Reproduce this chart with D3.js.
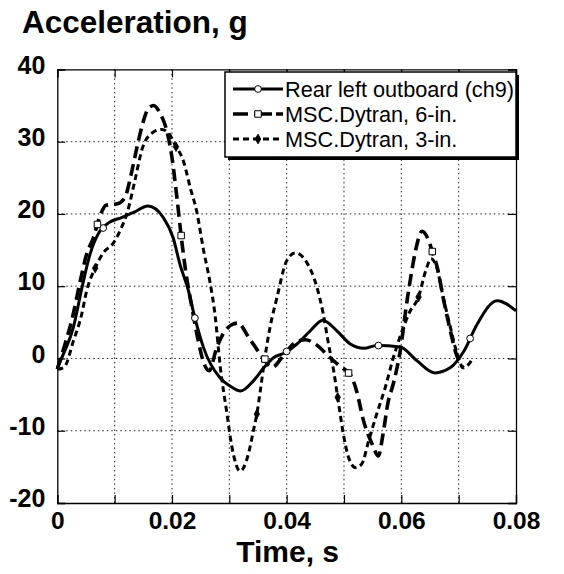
<!DOCTYPE html>
<html>
<head>
<meta charset="utf-8">
<script src="https://cdn.jsdelivr.net/npm/d3@7"></script>
<style>
  html, body { margin: 0; padding: 0; background: #fff; }
  svg { display: block; font-family: "Liberation Sans", Arial, Helvetica, sans-serif; }
</style>
</head>
<body>
<svg id="chart" width="564" height="574"></svg>
<script>
// ---- data (time in ms, acceleration in g) ----
const ch9Time = [0,1,2.8,4.3,5.7,7.4,9,11.2,13.3,15.8,18.5,20.2,21.4,22.9,24,25.5,28.4,30.1,32,34.2,36,37.7,39.7,41.8,44.1,46.3,48.8,51.1,53.5,55.7,59.8,62.7,65.8,68.5,70.9,73.2,76.7,80];
const ch9Accel = [-1.3,0.5,4.3,9.8,14.4,17.6,18.8,19.5,20.2,21.1,19.5,16.7,13,9.3,5.6,1.5,-2.7,-3.8,-4.5,-3.1,-1.3,0.1,0.8,2.0,3.8,5.3,3.8,2.0,1.4,1.8,1.6,-0.3,-2.0,-1.3,1.0,4.7,8.0,6.6];

const dyt6Time = [0,1.35,2.5,4,5.1,6.3,7.4,8.5,10.5,11.8,13,14,15,15.8,16.8,18,19.1,20,20.8,21.7,22.3,23.7,24.6,25.5,26.5,27.8,29,30.5,31.5,33.4,35.4,37.5,39.5,41.5,43.3,45,47.6,49.5,51.1,52.2,53.4,55,56,56.8,57.7,58.6,59.8,61,61.8,62.5,63.6,65,65.4,66.3,67.4,68.5,69.5,70.8];
const dyt6Accel = [-1.5,2,5.2,10.7,14.4,16.7,19.6,21.2,21.4,22.3,25.9,29.6,32.8,34.5,35,33.8,31.5,27.8,22.7,16.3,12.6,6.1,2.4,-0.5,-1.7,1.5,3.5,4.7,4.9,2.9,0.6,-1.2,0.5,2.2,2.6,2.0,0.1,-1.2,-2.2,-4.5,-8.6,-12,-13.5,-10.5,-6,-3.5,1,8,12,15,17.6,15.8,14.8,12.5,8,4,0.8,-1.3];

const dyt3Time = [0,1.2,2.8,4.25,5.1,6.6,8,9.8,10.9,12.2,13.5,14.8,16.5,18.2,19.4,20.5,22,23.2,24.3,25.5,26.6,27.5,28.4,29.6,30.4,31.9,33.3,34.2,34.8,35.4,36.2,37.1,38.3,40,41.5,43.5,45.3,46.4,47.3,48.2,49,49.9,50.8,52,53.1,54.3,55.7,57.2,58.6,60,61.5,63,64.2,65.2,66.2,67.3,68.5,69.8,70.8,72.5];
const dyt3Accel = [-1.5,-1.2,2.4,6.1,9.3,12.5,14.6,16,17.6,20.2,24.5,29,31.2,31.7,31.2,29.6,27.3,23.6,20.4,15,10.7,6.1,-1,-7.7,-12,-15.6,-13.3,-10,-7.7,-4.5,0.1,4.3,8.4,13.5,14.6,13.3,9.8,6.1,2,-1.7,-5.9,-10.5,-13.7,-15.1,-14.6,-11.4,-7.7,-4,0.1,3.5,6.5,8.5,12,13.8,12.5,8.5,4.5,0.5,-1.3,0];

// marker times (ms) for each series
const ch9MarkTime = [8,24,40,56,72];
const dyt6MarkTime = [7,21.6,36.2,50.8,65.4];
const dyt3MarkTime = [6.6,20.7,34.8,48.9,63];

const seriesNames = ["Rear left outboard (ch9)", "MSC.Dytran, 6-in.", "MSC.Dytran, 3-in."];
const xTicks = [0,0.01,0.02,0.03,0.04,0.05,0.06,0.07,0.08];
const xTickLabels = ["0","","0.02","","0.04","","0.06","","0.08"];
const yTicks = [-20,-10,0,10,20,30,40];
const yTickLabels = ["-20","-10","0","10","20","30","40"];
const titleText = "Acceleration, g";
const xTitleText = "Time, s";

// ---- layout ----
const svg = d3.select("#chart");
const L = 57.3, R = 516, T = 69.4, B = 503;
const x = d3.scaleLinear().domain([0, 0.08]).range([L, R]);
const y = d3.scaleLinear().domain([-20, 40]).range([B, T]);

const toPts = (ts, gs) => ts.map((t, i) => [t / 1000, gs[i]]);
const s1 = toPts(ch9Time, ch9Accel);
const s2 = toPts(dyt6Time, dyt6Accel);
const s3 = toPts(dyt3Time, dyt3Accel);

function interp(ts, gs, t) {
  for (let i = 0; i < ts.length - 1; i++) {
    if (t >= ts[i] && t <= ts[i + 1]) {
      const f = (t - ts[i]) / (ts[i + 1] - ts[i]);
      return gs[i] + f * (gs[i + 1] - gs[i]);
    }
  }
  return gs[gs.length - 1];
}

// gridlines
const grid = svg.append("g");
grid.selectAll("line.gx").data(xTicks.slice(1, -1)).join("line")
  .attr("x1", d => x(d)).attr("x2", d => x(d)).attr("y1", T).attr("y2", B)
  .attr("stroke", "#222").attr("stroke-width", 1).attr("stroke-dasharray", "1.5,3");
grid.selectAll("line.gy").data(yTicks.slice(1, -1)).join("line")
  .attr("y1", d => y(d)).attr("y2", d => y(d)).attr("x1", L).attr("x2", R)
  .attr("stroke", "#222").attr("stroke-width", 1).attr("stroke-dasharray", "1.5,3");

// axes
const xAxis = d3.axisBottom(x).tickValues(xTicks).tickSize(-8).tickPadding(6)
  .tickFormat((d, i) => xTickLabels[i]);
const gx = svg.append("g").attr("transform", `translate(0,${B})`).call(xAxis);
const yAxis = d3.axisLeft(y).tickValues(yTicks).tickSize(-8).tickPadding(12)
  .tickFormat((d, i) => yTickLabels[i]);
const gy = svg.append("g").attr("transform", `translate(${L},0)`).call(yAxis);
const yAxisR = d3.axisRight(y).tickValues(yTicks).tickSize(-8).tickFormat("");
const gyr = svg.append("g").attr("transform", `translate(${R},0)`).call(yAxisR);
const xAxisT = d3.axisTop(x).tickValues(xTicks).tickSize(-8).tickFormat("");
const gxt = svg.append("g").attr("transform", `translate(0,${T})`).call(xAxisT);

[gx, gy, gyr, gxt].forEach(g => {
  g.select(".domain").attr("stroke", "#000").attr("stroke-width", 1.3);
  g.selectAll(".tick line").attr("stroke", "#000").attr("stroke-width", 1.2);
});
gx.selectAll(".tick text").attr("font-size", 24.5).attr("font-weight", "bold")
  .attr("fill", "#000").attr("dy", "0.8em");
gy.selectAll(".tick text").attr("font-size", 25).attr("font-weight", "bold")
  .attr("fill", "#000").attr("dy", "0.15em");

// lines
const line = d3.line().x(d => x(d[0])).y(d => y(d[1])).curve(d3.curveMonotoneX);
const plot = svg.append("g");
plot.append("path").datum(s1).attr("d", line).attr("fill", "none")
  .attr("stroke", "#000").attr("stroke-width", 3).attr("stroke-linejoin", "round");
plot.append("path").datum(s2).attr("d", line).attr("fill", "none")
  .attr("stroke", "#000").attr("stroke-width", 3.6).attr("stroke-dasharray", "12,6");
plot.append("path").datum(s3).attr("d", line).attr("fill", "none")
  .attr("stroke", "#000").attr("stroke-width", 3).attr("stroke-dasharray", "6,4");

// markers
const m1 = ch9MarkTime.map(t => [t / 1000, interp(ch9Time, ch9Accel, t)]);
const m2 = dyt6MarkTime.map(t => [t / 1000, interp(dyt6Time, dyt6Accel, t)]);
const m3 = dyt3MarkTime.map(t => [t / 1000, interp(dyt3Time, dyt3Accel, t)]);
const circ = d3.symbol().type(d3.symbolCircle).size(36);
const sq = d3.symbol().type(d3.symbolSquare).size(42);
const dia = d3.symbol().type(d3.symbolDiamond).size(26);
plot.selectAll("path.m1").data(m1).join("path").attr("d", circ)
  .attr("transform", d => `translate(${x(d[0])},${y(d[1])})`)
  .attr("fill", "#fff").attr("stroke", "#000").attr("stroke-width", 1);
plot.selectAll("path.m2").data(m2).join("path").attr("d", sq)
  .attr("transform", d => `translate(${x(d[0])},${y(d[1])})`)
  .attr("fill", "#fff").attr("stroke", "#000").attr("stroke-width", 1);
plot.selectAll("path.m3").data(m3).join("path").attr("d", dia)
  .attr("transform", d => `translate(${x(d[0])},${y(d[1])})`)
  .attr("fill", "#000").attr("stroke", "#000").attr("stroke-width", 0.8);

// legend
const lg = svg.append("g");
const lx = 225, ly = 72, lw = 291, lh = 85;
lg.append("rect").attr("x", lx + 3).attr("y", ly + 3).attr("width", lw).attr("height", lh).attr("fill", "#000");
lg.append("rect").attr("x", lx).attr("y", ly).attr("width", lw).attr("height", lh)
  .attr("fill", "#fff").attr("stroke", "#000").attr("stroke-width", 1.5);
const rowY = [89, 114, 139];
const styles = [
  { w: 3, dash: null, sym: circ, fill: "#fff" },
  { w: 3.6, dash: "15,6,18,4,8", sym: sq, fill: "#fff" },
  { w: 3, dash: "6,4", sym: dia, fill: "#000" }
];
seriesNames.forEach((name, i) => {
  const st = styles[i];
  const ln = lg.append("line").attr("x1", lx + 8).attr("x2", lx + 58)
    .attr("y1", rowY[i]).attr("y2", rowY[i]).attr("stroke", "#000").attr("stroke-width", st.w);
  if (st.dash) ln.attr("stroke-dasharray", st.dash);
  lg.append("path").attr("d", st.sym).attr("transform", `translate(${lx + 33},${rowY[i]})`)
    .attr("fill", st.fill).attr("stroke", "#000").attr("stroke-width", 1);
  lg.append("text").attr("x", lx + 60).attr("y", rowY[i] + 8).attr("font-size", 21.7)
    .attr("fill", "#000").text(name);
});

// titles
svg.append("text").attr("x", 22).attr("y", 33).attr("font-size", 31.5).attr("font-weight", "bold")
  .attr("fill", "#000").text(titleText);
svg.append("text").attr("x", (L + R) / 2 + 1).attr("y", 562).attr("text-anchor", "middle")
  .attr("font-size", 30).attr("font-weight", "bold").attr("fill", "#000").text(xTitleText);
</script>
</body>
</html>
